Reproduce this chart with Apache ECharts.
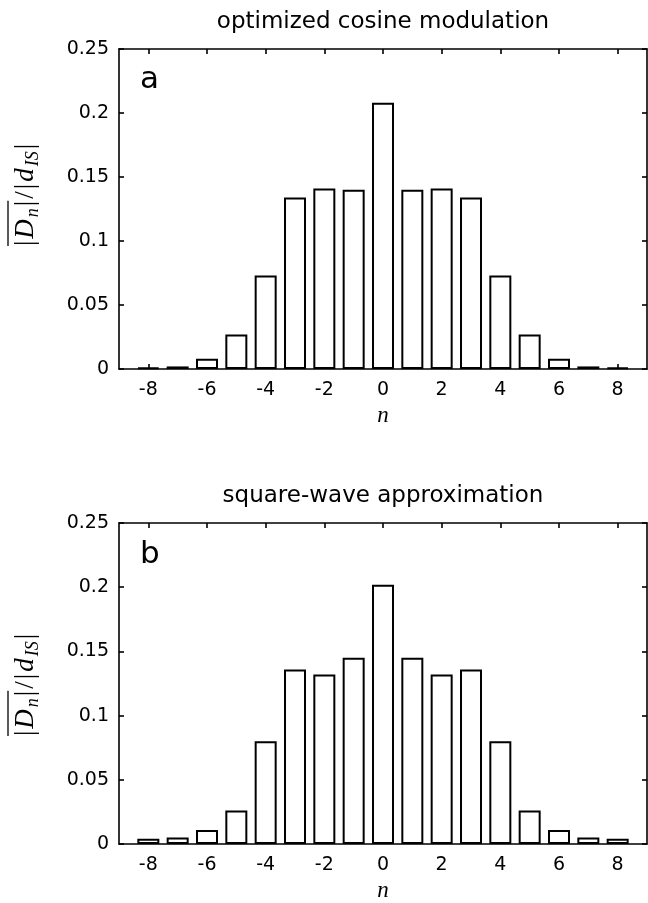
<!DOCTYPE html>
<html><head><meta charset="utf-8">
<script src="https://cdn.jsdelivr.net/npm/echarts@6/dist/echarts.min.js"></script>
<style>html,body{margin:0;padding:0;background:#fff}#c{width:648px;height:903px}</style>
</head><body><div id="c"></div>
<script>
const nValues = [-8,-7,-6,-5,-4,-3,-2,-1,0,1,2,3,4,5,6,7,8];
const cosineValues = [0.001,0.002,0.008,0.027,0.073,0.134,0.141,0.140,0.208,0.140,0.141,0.134,0.073,0.027,0.008,0.002,0.001];
const squareValues = [0.004,0.005,0.011,0.026,0.080,0.136,0.132,0.145,0.202,0.145,0.132,0.136,0.080,0.026,0.011,0.005,0.004];
const xTickValues = [-8,-6,-4,-2,0,2,4,6,8];
const titles = ['optimized cosine modulation','square-wave approximation'];
const panelLetters = ['a','b'];
const xAxisName = 'n';

const panels = [
  {top:49, height:320, values:cosineValues, titleY:22, letterY:80, labelY:195},
  {top:523, height:321, values:squareValues, titleY:496, letterY:555, labelY:685}
];
const LEFT = 119, WIDTH = 528;
const SANS = 'DejaVu Sans', SERIF = 'Liberation Serif';

const chart = echarts.init(document.getElementById('c'), null, {renderer:'canvas'});

const grid = [], xAxis = [], yAxis = [], series = [], graphic = [];
const lineStyle = {color:'#000', width:1.6};

const mctx = document.createElement('canvas').getContext('2d');
function mw(text, font){ mctx.font = font; return mctx.measureText(text).width; }

function yLabelGroup(cx, cy){
  const main = 27, sub = 18, gap = 2;
  const parts = [
    {t:'|', it:false, s:main, dy:0},
    {t:'D', it:true, s:main, dy:0},
    {t:'n', it:true, s:sub, dy:7},
    {t:'|', it:false, s:main, dy:0},
    {t:'/', it:false, s:main, dy:0},
    {t:'|', it:false, s:main, dy:0},
    {t:'d', it:true, s:main, dy:0},
    {t:'IS', it:true, s:sub, dy:7},
    {t:'|', it:false, s:main, dy:0}
  ];
  const widths = parts.map(p => mw(p.t, (p.it?'italic ':'') + p.s + 'px "' + SERIF + '"'));
  const total = widths.reduce((a,b)=>a+b,0) + gap*(parts.length-1);
  let x = -total/2;
  const children = [];
  let olStart = 0, olEnd = 0;
  parts.forEach((p,i) => {
    if (i === 0) olStart = x;
    children.push({type:'text', x:x, y:p.dy, style:{text:p.t, font:(p.it?'italic ':'') + p.s + 'px "' + SERIF + '"', fill:'#000', align:'left', verticalAlign:'middle'}});
    x += widths[i];
    if (i === 3) olEnd = x;
    x += gap;
  });
  children.push({type:'line', shape:{x1:olStart, y1:-18, x2:olEnd, y2:-18}, style:{stroke:'#000', lineWidth:1.3}});
  return {type:'group', x:cx, y:cy, rotation:Math.PI/2, children:children};
}

panels.forEach((p, i) => {
  grid.push({left:LEFT, top:p.top, width:WIDTH, height:p.height, show:false});
  xAxis.push({
    gridIndex:i, type:'value', min:-9, max:9, position:'bottom',
    axisLine:{show:true, onZero:false, lineStyle},
    axisTick:{show:true, inside:true, length:5, customValues:xTickValues, lineStyle},
    axisLabel:{customValues:xTickValues, color:'#000', fontFamily:SANS, fontSize:19, margin:12},
    splitLine:{show:false},
    name:xAxisName, nameLocation:'middle', nameGap:35,
    nameTextStyle:{fontFamily:SERIF, fontStyle:'italic', fontSize:23, color:'#000'}
  });
  xAxis.push({
    gridIndex:i, type:'value', min:-9, max:9, position:'top',
    axisLine:{show:true, onZero:false, lineStyle},
    axisTick:{show:true, inside:true, length:5, customValues:xTickValues, lineStyle},
    axisLabel:{show:false}, splitLine:{show:false}
  });
  yAxis.push({
    gridIndex:i, type:'value', min:0, max:0.25, interval:0.05, position:'left',
    axisLine:{show:true, onZero:false, lineStyle},
    axisTick:{show:true, inside:true, length:5, lineStyle},
    axisLabel:{color:'#000', fontFamily:SANS, fontSize:19, margin:10},
    splitLine:{show:false}
  });
  yAxis.push({
    gridIndex:i, type:'value', min:0, max:0.25, interval:0.05, position:'right',
    axisLine:{show:true, onZero:false, lineStyle},
    axisTick:{show:true, inside:true, length:5, lineStyle},
    axisLabel:{show:false}, splitLine:{show:false}
  });
  series.push({
    type:'bar', xAxisIndex:i*2, yAxisIndex:i*2,
    data:nValues.map((n,k)=>[n, p.values[k]]),
    barWidth:22,
    itemStyle:{color:'#fff', borderColor:'#000', borderWidth:2},
    emphasis:{disabled:true}
  });
  graphic.push({type:'text', x:LEFT + WIDTH/2, y:p.titleY,
    style:{text:titles[i], font:'23px "' + SANS + '"', fill:'#000', align:'center', verticalAlign:'middle'}});
  graphic.push({type:'text', x:140, y:p.letterY,
    style:{text:panelLetters[i], font:'31px "' + SANS + '"', fill:'#000', align:'left', verticalAlign:'middle'}});
  graphic.push(yLabelGroup(26, p.labelY));
});

chart.setOption({
  animation:false,
  grid, xAxis, yAxis, series, graphic
});
</script>
</body></html>
